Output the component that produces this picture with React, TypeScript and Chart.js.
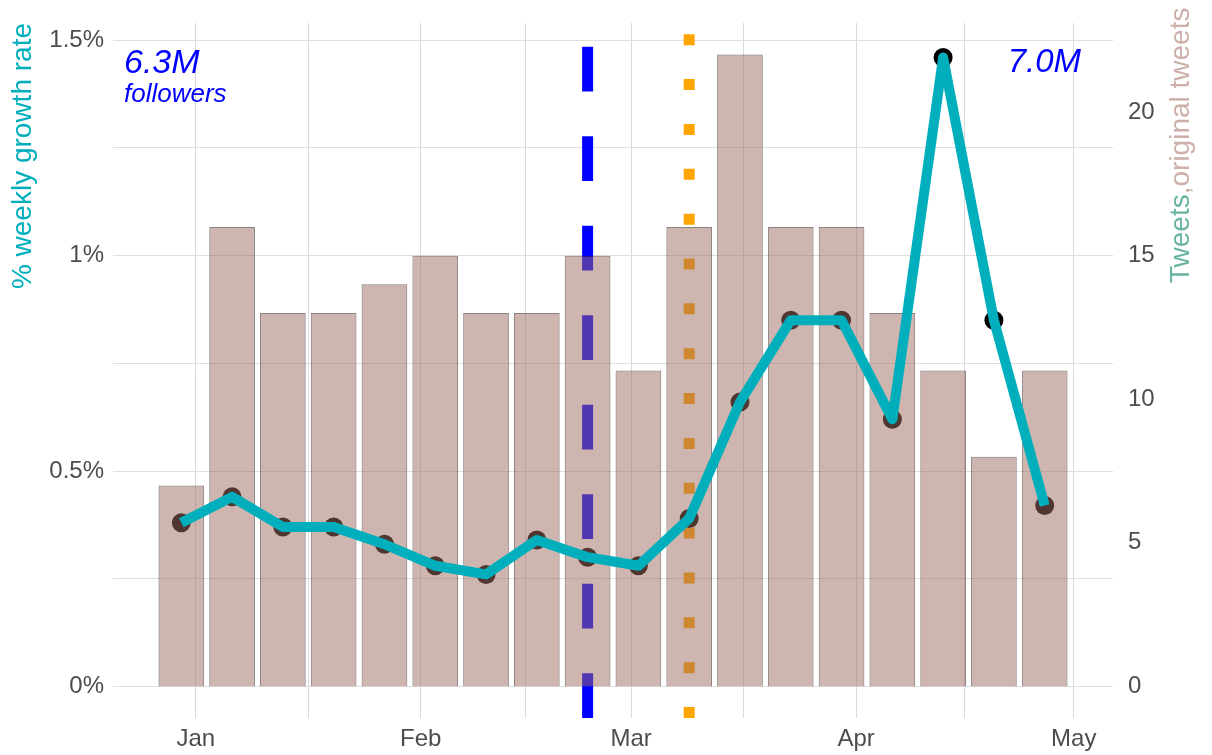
import React, { useEffect, useRef } from 'react';
import { Chart, registerables } from 'chart.js';

Chart.register(...registerables);

// ---------- data ----------
const weekStarts = [
  '2019-12-30', '2020-01-06', '2020-01-13', '2020-01-20', '2020-01-27',
  '2020-02-03', '2020-02-10', '2020-02-17', '2020-02-24', '2020-03-02',
  '2020-03-09', '2020-03-16', '2020-03-23', '2020-03-30', '2020-04-06',
  '2020-04-13', '2020-04-20', '2020-04-27',
];
const tweetCounts = [7, 16, 13, 13, 14, 15, 13, 13, 15, 11, 16, 22, 16, 16, 13, 11, 8, 11];
const growthRates = [0.38, 0.44, 0.37, 0.37, 0.33, 0.28, 0.26, 0.34, 0.30, 0.28, 0.39, 0.66, 0.85, 0.85, 0.62, 1.46, 0.85, 0.42];

const monthTicks = ['2020-01-01', '2020-02-01', '2020-03-01', '2020-04-01', '2020-05-01'];
const monthLabels = ['Jan', 'Feb', 'Mar', 'Apr', 'May'];
const growthTicks = [0, 0.5, 1, 1.5];
const growthTickLabels = ['0%', '0.5%', '1%', '1.5%'];
const tweetTicks = [0, 5, 10, 15, 20];

const dashedEventDate = '2020-02-24';
const dottedEventDate = '2020-03-09';

const startFollowers = '6.3M';
const startFollowersSub = 'followers';
const endFollowers = '7.0M';

const leftTitle = '% weekly growth rate';
const rightTitleA = 'Tweets';
const rightTitleB = ',original tweets';

// tweets per 1 % of growth (secondary axis ratio)
const TWEETS_PER_PCT = 15;

// ---------- helpers ----------
const ORIGIN = Date.UTC(2020, 0, 1);
const toDay = (s: string) => (Date.parse(s + 'T00:00:00Z') - ORIGIN) / 86400000;

const X_MIN = -11.415;
const X_MAX = 126.415;
const Y_MIN = -0.0733;
const Y_MAX = 1.54;

const FONT = "'Liberation Sans', Arial, sans-serif";
const TEAL = '#00AFBB';
const GREY_TEXT = '#4D4D4D';

const midpoints = (arr: number[]) => {
  const out: number[] = [];
  for (let i = 0; i < arr.length - 1; i++) out.push((arr[i] + arr[i + 1]) / 2);
  return out;
};

const noPad = (s: any) => {
  s.paddingTop = 0;
  s.paddingBottom = 0;
  s.paddingLeft = 0;
  s.paddingRight = 0;
};

export default function App() {
  const ref = useRef<HTMLCanvasElement | null>(null);

  useEffect(() => {
    if (!ref.current) return;
    const monthDays = monthTicks.map(toDay);
    const xTickVals = [...monthDays, ...midpoints(monthDays)].sort((a, b) => a - b);
    const yTickVals = [...growthTicks, ...midpoints(growthTicks)].sort((a, b) => a - b);

    const growthPts = weekStarts.map((d, i) => ({ x: toDay(d), y: growthRates[i] }));
    const tweetPts = weekStarts.map((d, i) => ({ x: toDay(d), y: tweetCounts[i] }));

    const vlinePlugin = {
      id: 'vlines',
      beforeDatasetsDraw(chart: any) {
        const { ctx, chartArea } = chart;
        const xs = chart.scales.x;
        ctx.save();
        ctx.beginPath();
        ctx.rect(chartArea.left, chartArea.top, chartArea.right - chartArea.left, chartArea.bottom - chartArea.top);
        ctx.clip();
        ctx.lineCap = 'butt';
        // dashed blue
        const xb = xs.getPixelForValue(toDay(dashedEventDate));
        ctx.strokeStyle = '#0000FF';
        ctx.lineWidth = 11;
        ctx.setLineDash([44.75, 44.75]);
        ctx.beginPath();
        ctx.moveTo(xb, chartArea.bottom);
        ctx.lineTo(xb, chartArea.top);
        ctx.stroke();
        // dotted orange
        const xo = xs.getPixelForValue(toDay(dottedEventDate));
        ctx.strokeStyle = '#FFA500';
        ctx.setLineDash([11, 33.85]);
        ctx.beginPath();
        ctx.moveTo(xo, chartArea.bottom);
        ctx.lineTo(xo, chartArea.top);
        ctx.stroke();
        ctx.restore();
      },
    };

    const textPlugin = {
      id: 'texts',
      afterDraw(chart: any) {
        const { ctx, chartArea } = chart;
        ctx.save();
        ctx.fillStyle = '#0000FF';
        ctx.textBaseline = 'alphabetic';
        ctx.textAlign = 'left';
        ctx.font = `italic 34px ${FONT}`;
        ctx.fillText(startFollowers, chartArea.left + 11, 72.5);
        ctx.font = `italic 26px ${FONT}`;
        ctx.fillText(startFollowersSub, chartArea.left + 11, 102);
        ctx.font = `italic 33px ${FONT}`;
        ctx.textAlign = 'right';
        ctx.fillText(endFollowers, chartArea.right - 32, 72);
        ctx.restore();

        // right axis title, two colours, reading bottom-to-top
        ctx.save();
        ctx.translate(1189, 283);
        ctx.rotate(-Math.PI / 2);
        ctx.font = `28px ${FONT}`;
        ctx.textAlign = 'left';
        ctx.textBaseline = 'alphabetic';
        ctx.fillStyle = '#69B3A2';
        ctx.fillText(rightTitleA, 0, 0);
        const w = ctx.measureText(rightTitleA).width;
        ctx.fillStyle = '#CDB0A9';
        ctx.fillText(rightTitleB, w, 0);
        ctx.restore();
      },
    };

    const chart = new Chart(ref.current, {
      type: 'bar',
      data: {
        datasets: [
          {
            type: 'line',
            data: growthPts,
            yAxisID: 'y',
            showLine: false,
            pointRadius: 9.5,
            pointBackgroundColor: '#000000',
            pointBorderWidth: 0,
            order: 3,
          } as any,
          {
            type: 'bar',
            data: tweetPts,
            yAxisID: 'y2',
            backgroundColor: 'rgba(160,108,96,0.5)',
            borderColor: 'rgba(40,25,25,0.55)',
            borderWidth: 1,
            categoryPercentage: 1,
            barPercentage: 0.9,
            order: 2,
          } as any,
          {
            type: 'line',
            data: growthPts,
            yAxisID: 'y',
            borderColor: TEAL,
            borderWidth: 10,
            pointRadius: 0,
            tension: 0,
            borderJoinStyle: 'round',
            borderCapStyle: 'butt',
            order: 1,
          } as any,
        ],
      },
      options: {
        responsive: false,
        animation: false,
        layout: { padding: { top: 23, left: 0, right: 0, bottom: 0 } },
        plugins: { legend: { display: false }, tooltip: { enabled: false } },
        scales: {
          x: {
            type: 'linear',
            min: X_MIN,
            max: X_MAX,
            offset: false,
            afterBuildTicks: (s: any) => { s.ticks = xTickVals.map((v) => ({ value: v })); },
            afterFit: (s: any) => { s.height = 37; noPad(s); },
            border: { display: false },
            grid: { color: '#D9D9D9', lineWidth: 1, drawTicks: false, offset: false },
            ticks: {
              autoSkip: false,
              maxRotation: 0,
              color: GREY_TEXT,
              font: { family: FONT, size: 24 },
              padding: 7,
              callback: (v: any) => {
                const i = monthDays.indexOf(Number(v));
                return i >= 0 ? monthLabels[i] : '';
              },
            },
          },
          y: {
            type: 'linear',
            position: 'left',
            min: Y_MIN,
            max: Y_MAX,
            afterBuildTicks: (s: any) => { s.ticks = yTickVals.map((v) => ({ value: v })); },
            afterFit: (s: any) => { s.width = 113; noPad(s); },
            border: { display: false },
            grid: { color: '#DEDEDE', lineWidth: 1, drawTicks: false },
            ticks: {
              color: GREY_TEXT,
              font: { family: FONT, size: 24 },
              padding: 9,
              callback: (v: any) => {
                const i = growthTicks.indexOf(Number(v));
                return i >= 0 ? growthTickLabels[i] : '';
              },
            },
            title: {
              display: true,
              text: leftTitle,
              color: TEAL,
              align: 'end',
              font: { family: FONT, size: 28 },
              padding: { top: 6, bottom: 0 },
            },
          },
          y2: {
            type: 'linear',
            position: 'right',
            min: Y_MIN * TWEETS_PER_PCT,
            max: Y_MAX * TWEETS_PER_PCT,
            afterBuildTicks: (s: any) => { s.ticks = tweetTicks.map((v) => ({ value: v })); },
            afterFit: (s: any) => { s.width = 99; noPad(s); },
            border: { display: false },
            grid: { display: false, drawTicks: false },
            ticks: {
              color: GREY_TEXT,
              font: { family: FONT, size: 24 },
              padding: 15,
            },
          },
        },
      } as any,
      plugins: [vlinePlugin, textPlugin],
    });
    return () => chart.destroy();
  }, []);

  return (
    <div style={{ position: 'absolute', left: 0, top: 0, width: 1212, height: 755, background: '#fff' }}>
      <canvas ref={ref} width={1212} height={755} style={{ width: 1212, height: 755, display: 'block' }} />
    </div>
  );
}
